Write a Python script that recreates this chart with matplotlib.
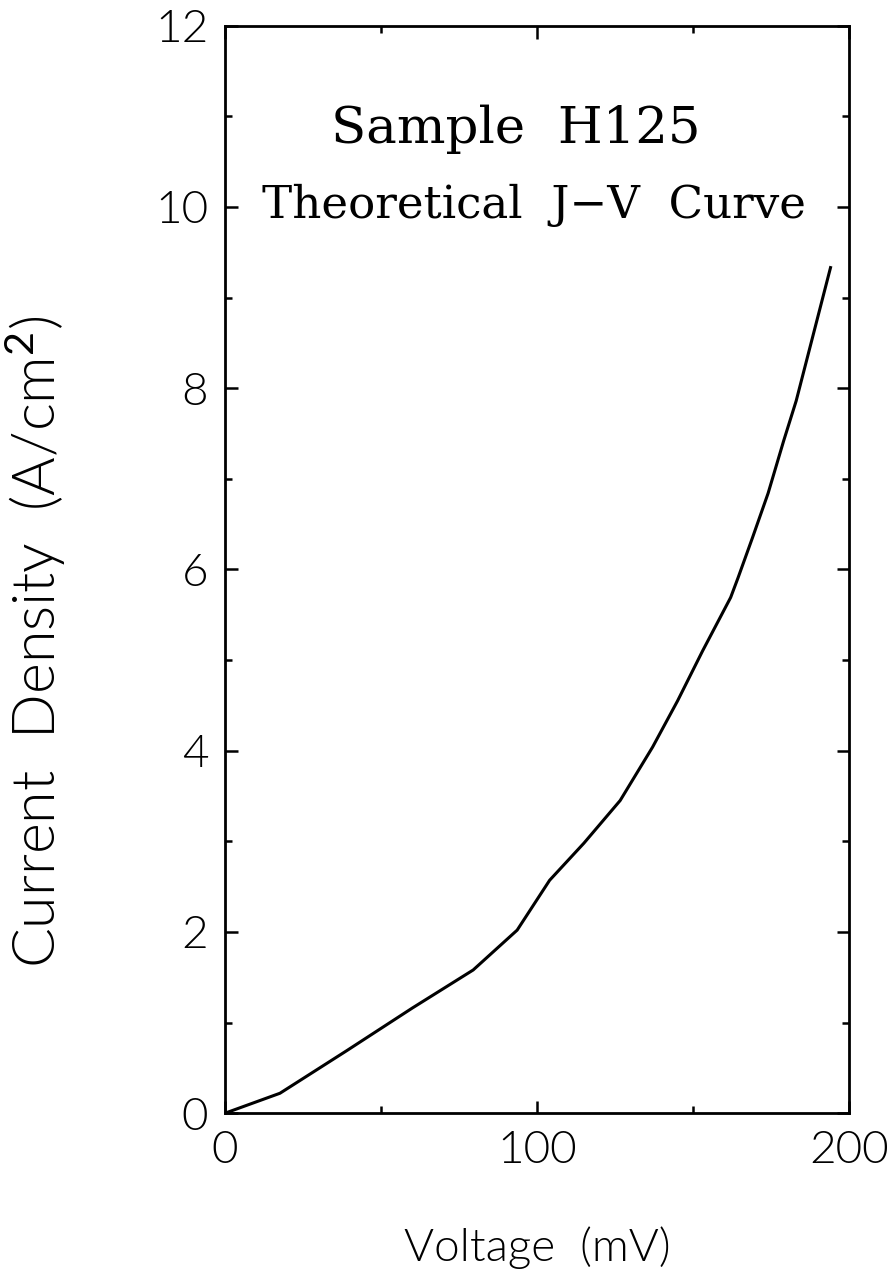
"""Theoretical J-V curve for sample H125."""
import matplotlib
matplotlib.use("Agg")
import matplotlib.pyplot as plt
from matplotlib.ticker import MultipleLocator

# voltage (mV) and current density (A/cm^2)
VOLTAGE = [0, 17.6, 39, 60, 79.5, 93.6, 104, 115, 126.6, 137, 145, 153,
           162, 164.4, 169, 174, 179, 183, 194]
CURRENT = [0, 0.22, 0.69, 1.16, 1.58, 2.02, 2.57, 2.98, 3.45, 4.04, 4.55, 5.1,
           5.69, 5.91, 6.35, 6.84, 7.42, 7.86, 9.33]

SANS = ["Lato", "DejaVu Sans"]
SERIF = ["DejaVu Serif"]
W = 300  # light weight for the sans labels

plt.rcParams["mathtext.fontset"] = "custom"
plt.rcParams["mathtext.rm"] = "Lato"

fig = plt.figure(figsize=(8.93, 12.81), dpi=100)
ax = fig.add_axes([0.252, 0.131, 0.699, 0.849])

ax.plot(VOLTAGE, CURRENT, color="black", lw=2.2)
ax.set_xlim(0, 200)
ax.set_ylim(0, 12)

ax.xaxis.set_major_locator(MultipleLocator(100))
ax.xaxis.set_minor_locator(MultipleLocator(50))
ax.yaxis.set_major_locator(MultipleLocator(2))
ax.yaxis.set_minor_locator(MultipleLocator(1))
ax.tick_params(which="both", direction="in", top=True, right=True,
               width=1.8, color="black")
ax.tick_params(which="major", length=9, pad=12)
ax.tick_params(which="minor", length=5)
for sp in ax.spines.values():
    sp.set_linewidth(2.0)

for lab in ax.get_xticklabels() + ax.get_yticklabels():
    lab.set_family(SANS)
    lab.set_fontweight(W)
    lab.set_fontsize(33)

ax.set_xlabel("Voltage  (mV)", family=SANS, fontweight=W, fontsize=33,
              labelpad=40)
ax.set_ylabel(r"Current  Density  (A/cm$\mathrm{^2}$)", family=SANS,
              fontweight=W, fontsize=42.5)
ax.yaxis.set_label_coords(-0.252, 0.433)

ax.text(0.466, 0.905, "Sample  H125", transform=ax.transAxes, ha="center",
        va="center", family=SERIF, fontsize=37)
ax.text(0.495, 0.835, "Theoretical  J\u2212V  Curve", transform=ax.transAxes,
        ha="center", va="center", family=SERIF, fontsize=32.5)

fig.savefig("out.png", dpi=100)
